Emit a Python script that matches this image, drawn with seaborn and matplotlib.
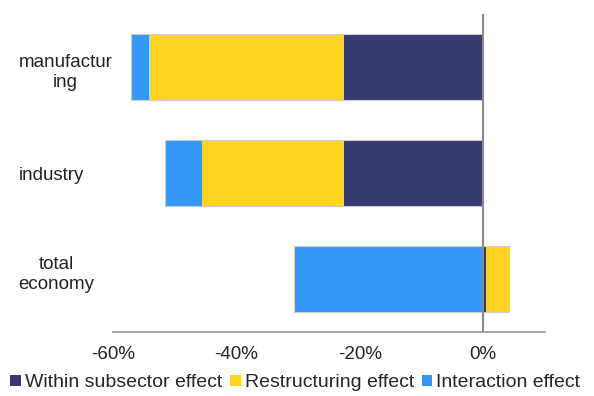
import matplotlib
matplotlib.use("Agg")
import matplotlib.pyplot as plt
import matplotlib.transforms as mtransforms
from matplotlib.patches import Patch
import numpy as np
import pandas as pd
import seaborn as sns

# Decomposition of change by component (percent)
sectors = ["manufactur\ning", "industry", "total\neconomy"]
within = [-22.6, -22.6, 0.5]
restructuring = [-31.6, -22.9, 3.7]
interaction = [-2.9, -6.0, -30.6]

series_names = ["Within subsector effect", "Restructuring effect", "Interaction effect"]
colors = ["#353B71", "#FED321", "#3399F8"]
xticks = [-60, -40, -20, 0]
xtick_labels = ["-60%", "-40%", "-20%", "0%"]

sns.set_theme(style="white")
plt.rcParams["font.family"] = ["Liberation Sans", "DejaVu Sans"]

fig = plt.figure(figsize=(5.94, 3.96), dpi=100)
ax = fig.add_axes([0.190, 0.1616, 0.7275, 0.803])

# Stack positives to the right and negatives to the left of zero
values = np.array([within, restructuring, interaction])
pos_base = np.zeros(len(sectors))
neg_base = np.zeros(len(sectors))
lefts = []
for row in values:
    left = np.where(row >= 0, pos_base, neg_base + row)
    lefts.append(left)
    pos_base = pos_base + np.where(row >= 0, row, 0)
    neg_base = neg_base + np.where(row < 0, row, 0)

bar_h = 0.62
for name, row, left, col in zip(series_names, values, lefts, colors):
    df = pd.DataFrame({"sector": sectors, "value": np.abs(row)})
    sns.barplot(data=df, x="value", y="sector", orient="h", color=col,
                width=bar_h, left=left, linewidth=0, ax=ax, saturation=1)

# Thin grey outline around each bar's full extent
extent = pd.DataFrame({"sector": sectors, "value": pos_base - neg_base})
sns.barplot(data=extent, x="value", y="sector", orient="h", width=bar_h,
            left=neg_base, fill=False, color="#cccccc",
            linewidth=0.8, ax=ax, saturation=1)

ax.axvline(0, color="#8a8a8a", linewidth=1.5, zorder=5)
ax.set_xlim(-60, 10)
ax.set_ylim(2.5, -0.5)

ax.set_xticks(xticks)
ax.set_xticklabels(xtick_labels, fontsize=13.5, color="#222222")
ax.tick_params(axis="x", length=0, pad=10)
ax.tick_params(axis="y", length=0, pad=68)
ax.set_yticks(range(len(sectors)))
ax.set_yticklabels(sectors, fontsize=13.5, color="#222222")
label_shift = [-2, 0, 8]  # vertical nudge in pixels per category label
for lbl, dy in zip(ax.get_yticklabels(), label_shift):
    lbl.set_horizontalalignment("left")
    lbl.set_multialignment("center")
    lbl.set_transform(lbl.get_transform() +
                      mtransforms.ScaledTranslation(0, dy / 100, fig.dpi_scale_trans))
ax.set_xlabel("")
ax.set_ylabel("")

for side in ["top", "right", "left"]:
    ax.spines[side].set_visible(False)
ax.spines["bottom"].set_color("#9a9a9a")
ax.spines["bottom"].set_linewidth(1.2)

handles = [Patch(facecolor=c, edgecolor="none") for c in colors]
fig.legend(handles, series_names, loc="center", bbox_to_anchor=(0.497, 0.033),
           ncol=3, frameon=False, fontsize=14, handlelength=0.55,
           handleheight=0.55, handletextpad=0.2, columnspacing=0.4,
           borderaxespad=0, borderpad=0)

fig.savefig("out.png", dpi=100)
